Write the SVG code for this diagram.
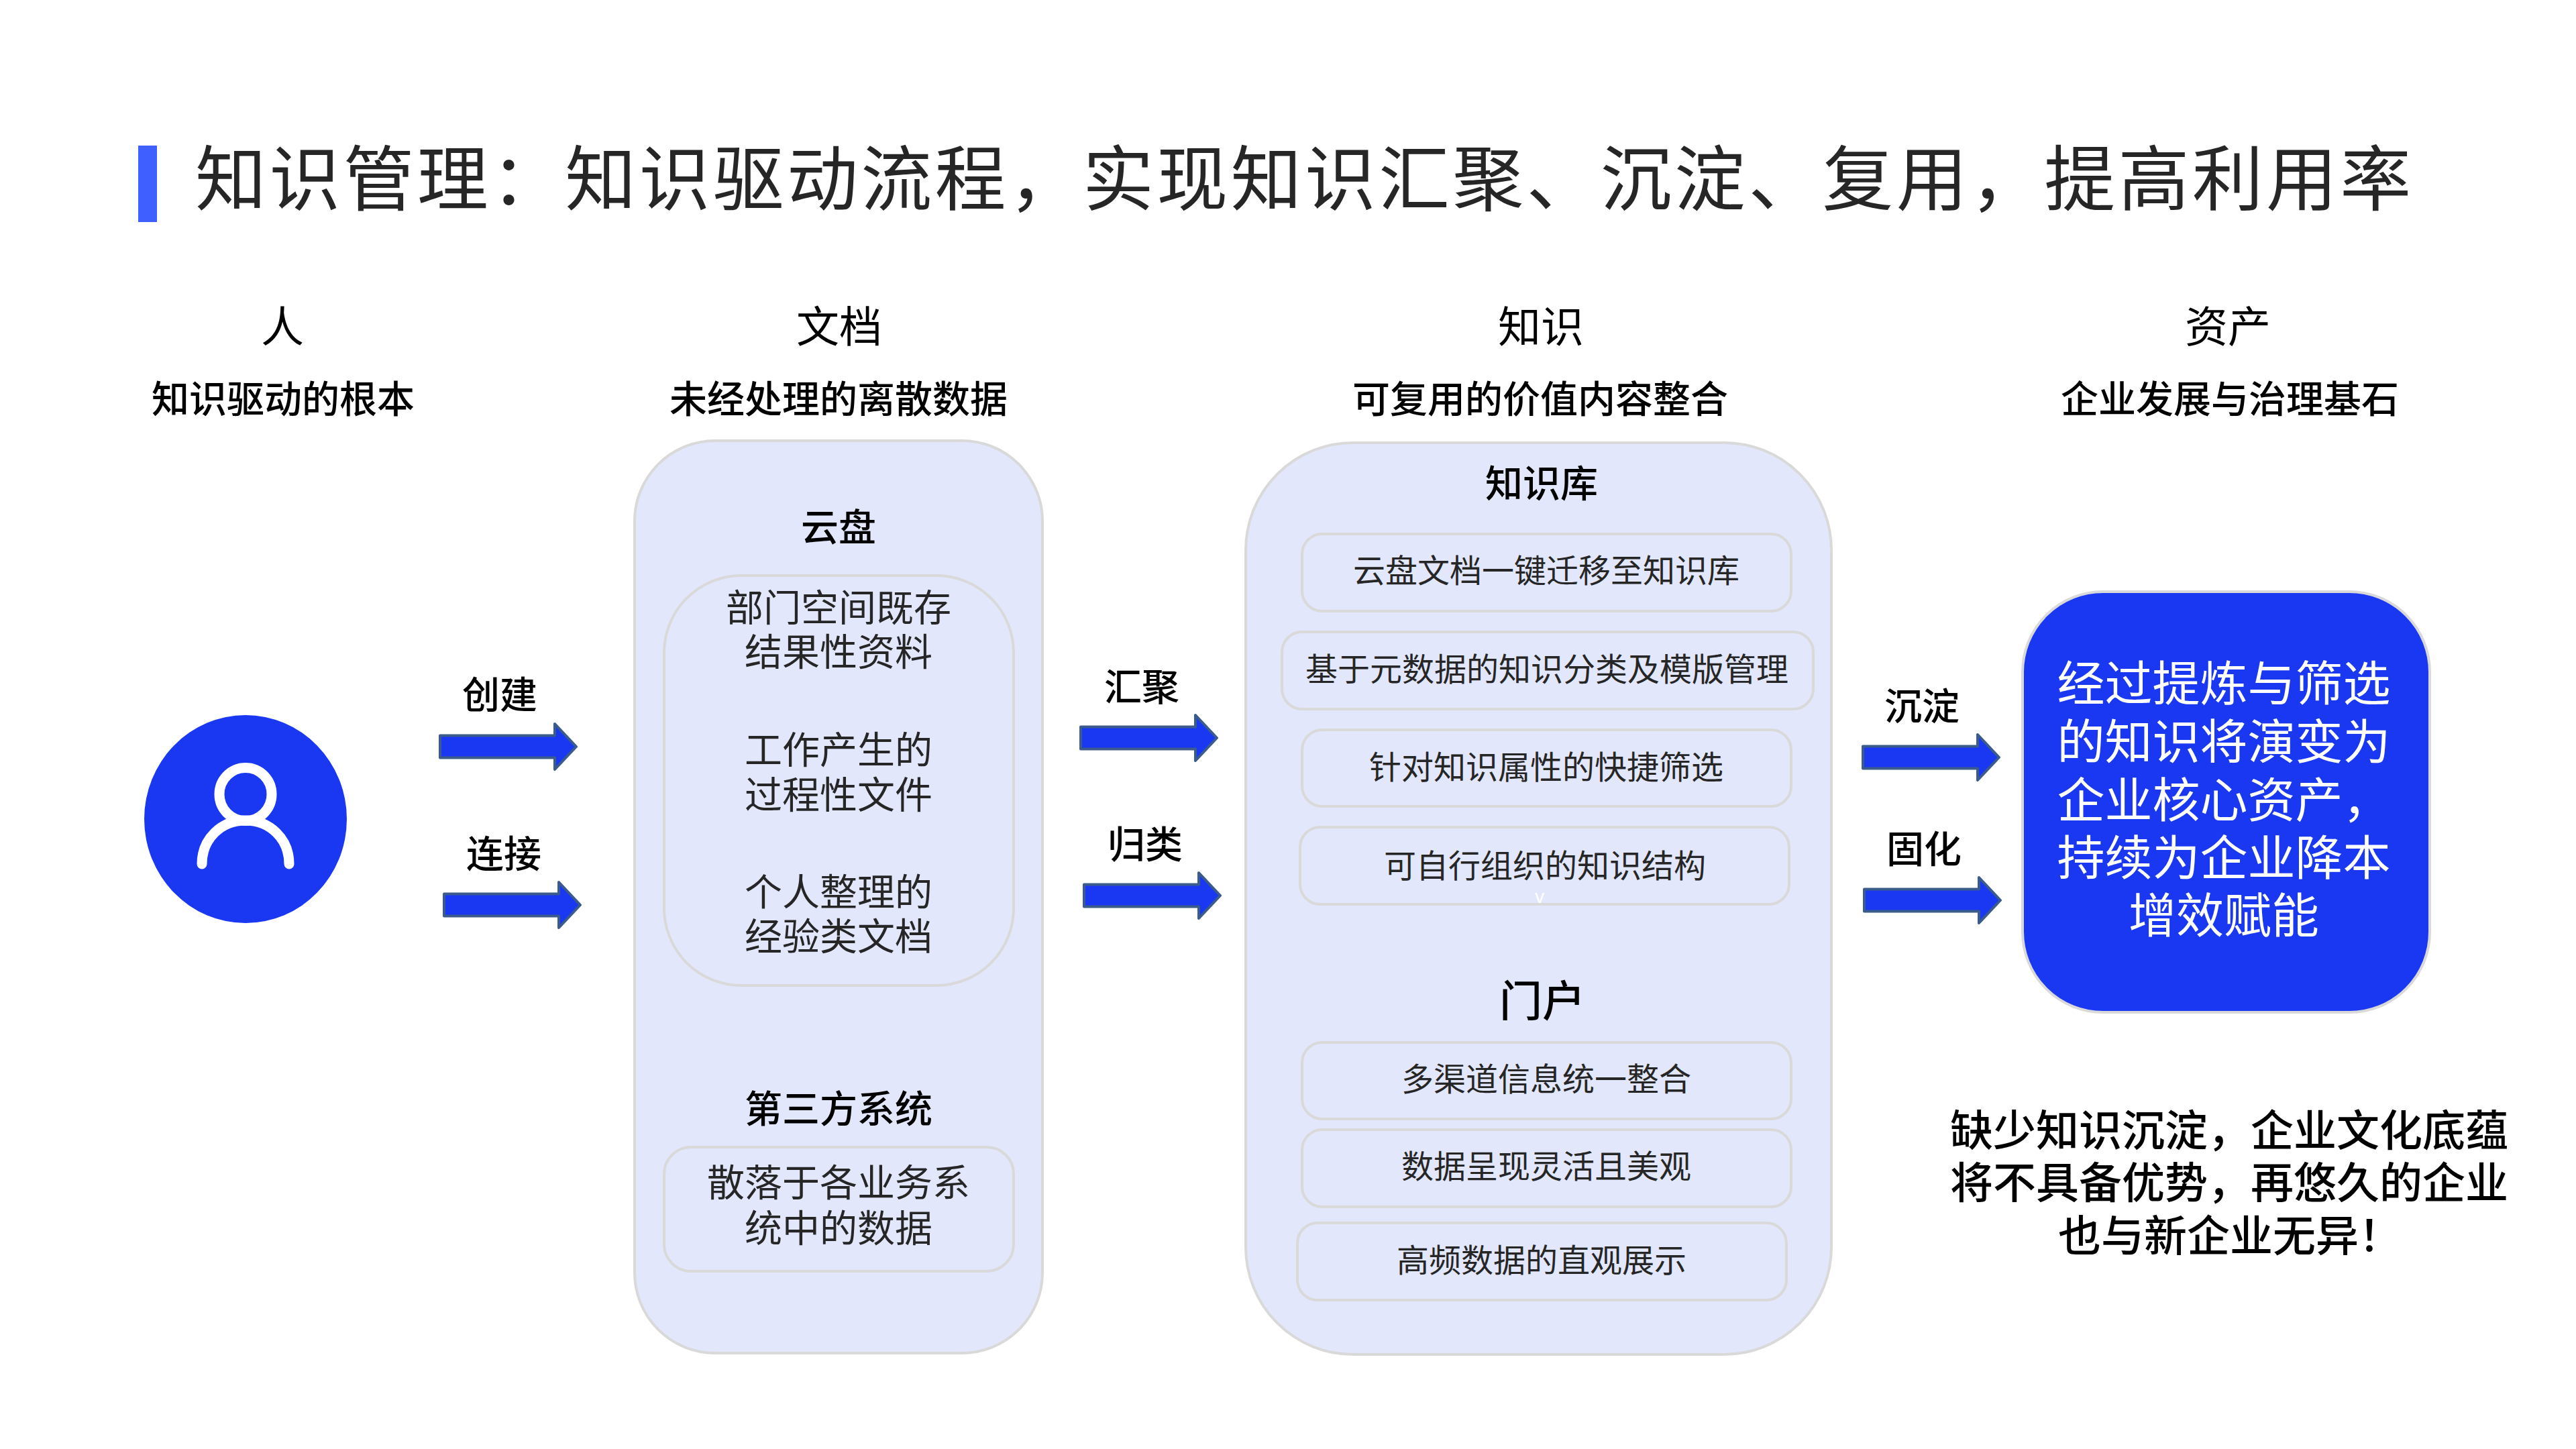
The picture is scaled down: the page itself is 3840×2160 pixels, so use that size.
<svg xmlns="http://www.w3.org/2000/svg" width="3840" height="2160" viewBox="0 0 3840 2160">
<defs>
<path id="arr" d="M0 -16.5 H171 V-34 L203 0 L171 34 V16.5 H0 Z"/>
</defs>
<style>
text{font-family:"Noto Sans CJK SC","Noto Sans",sans-serif;fill:#000;text-anchor:middle}
.title{font-size:106px;letter-spacing:4.25px;fill:#262626;text-anchor:start}
.h{font-size:64px}
.hm{font-size:64px;font-weight:500}
.s{font-size:56px;font-weight:500}
.t56{font-size:56px;fill:#262626}
.t48{font-size:48px;fill:#262626}
.w{font-size:71px;fill:#fff}
.n{font-size:64px;font-weight:500}
.v{font-size:28px;fill:#fff}
.panel{fill:#E3E7FC;stroke:#D9D9D9;stroke-width:4}
.box{fill:#E3E7FC;stroke:#D9D9D9;stroke-width:4}
.arrow{fill:#1A38F2;stroke:#3B5B8C;stroke-width:4;stroke-linejoin:round}
</style>
<rect width="3840" height="2160" fill="#fff"/>
<g id="title">
<rect x="206" y="217" width="28" height="114" fill="#3F5FFF"/>
<text class="title" x="291" y="305">知识管理：知识驱动流程，实现知识汇聚、沉淀、复用，提高利用率</text>
</g>
<g id="headers">
<text class="h" x="421" y="510">人</text>
<text class="s" x="422" y="615">知识驱动的根本</text>
<text class="h" x="1251" y="510">文档</text>
<text class="s" x="1250" y="615">未经处理的离散数据</text>
<text class="h" x="2297" y="510">知识</text>
<text class="s" x="2296" y="615">可复用的价值内容整合</text>
<text class="h" x="3321" y="510">资产</text>
<text class="s" x="3324" y="615">企业发展与治理基石</text>
</g>
<g id="person">
<ellipse cx="366" cy="1221" rx="151" ry="155" fill="#1A38F2"/>
<ellipse cx="366" cy="1184" rx="39" ry="39.5" fill="none" stroke="#fff" stroke-width="15"/>
<path d="M301 1288 C301 1250 330 1223 366 1223 S431 1250 431 1288" fill="none" stroke="#fff" stroke-width="15" stroke-linecap="round"/>
</g>
<g id="connectors">
<use class="arrow" href="#arr" x="656" y="1113"/>
<use class="arrow" href="#arr" x="662" y="1349"/>
<use class="arrow" href="#arr" x="1611" y="1100"/>
<use class="arrow" href="#arr" x="1616" y="1335"/>
<use class="arrow" href="#arr" x="2777" y="1129"/>
<use class="arrow" href="#arr" x="2779" y="1342"/>
</g>
<g id="connector-labels">
<text class="s" x="745" y="1056">创建</text>
<text class="s" x="751" y="1293">连接</text>
<text class="s" x="1702" y="1044">汇聚</text>
<text class="s" x="1707" y="1279">归类</text>
<text class="s" x="2865" y="1073">沉淀</text>
<text class="s" x="2868" y="1286">固化</text>
</g>
<g id="doc-panel">
<rect class="panel" x="946" y="657" width="608" height="1360" rx="120"/>
<text class="s" x="1250" y="806">云盘</text>
<rect class="box" x="990" y="858" width="521" height="611" rx="115"/>
<text class="t56" x="1250" y="926">部门空间既存</text>
<text class="t56" x="1250" y="992">结果性资料</text>
<text class="t56" x="1250" y="1138">工作产生的</text>
<text class="t56" x="1250" y="1205">过程性文件</text>
<text class="t56" x="1250" y="1350">个人整理的</text>
<text class="t56" x="1250" y="1416">经验类文档</text>
<text class="s" x="1250" y="1673">第三方系统</text>
<rect class="box" x="990" y="1710" width="521" height="185" rx="40"/>
<text class="t56" x="1250" y="1783">散落于各业务系</text>
<text class="t56" x="1250" y="1851">统中的数据</text>
</g>
<g id="knowledge-panel">
<rect class="panel" x="1857" y="660" width="873" height="1359" rx="160"/>
<text class="s" x="2298" y="741">知识库</text>
<rect class="box" x="1941" y="796" width="729" height="115" rx="30"/>
<text class="t48" x="2305" y="868">云盘文档一键迁移至知识库</text>
<rect class="box" x="1911" y="942" width="792" height="115" rx="30"/>
<text class="t48" x="2306" y="1015">基于元数据的知识分类及模版管理</text>
<rect class="box" x="1941" y="1088" width="729" height="114" rx="30"/>
<text class="t48" x="2305" y="1161">针对知识属性的快捷筛选</text>
<rect class="box" x="1938" y="1233" width="729" height="115" rx="30"/>
<text class="t48" x="2303" y="1308">可自行组织的知识结构</text>
<text class="v" x="2295" y="1346">v</text>
<text class="hm" x="2299" y="1515">门户</text>
<rect class="box" x="1941" y="1554" width="729" height="114" rx="30"/>
<text class="t48" x="2305" y="1626">多渠道信息统一整合</text>
<rect class="box" x="1941" y="1684" width="729" height="115" rx="30"/>
<text class="t48" x="2305" y="1756">数据呈现灵活且美观</text>
<rect class="box" x="1934" y="1823" width="729" height="115" rx="30"/>
<text class="t48" x="2298" y="1896">高频数据的直观展示</text>
</g>
<g id="asset">
<rect x="3015" y="882" width="607" height="627" rx="120" fill="#1A38F2" stroke="#D9D9D9" stroke-width="4"/>
<text class="w" x="3315" y="1044">经过提炼与筛选</text>
<text class="w" x="3315" y="1131">的知识将演变为</text>
<text class="w" x="3315" y="1218">企业核心资产，</text>
<text class="w" x="3315" y="1304">持续为企业降本</text>
<text class="w" x="3315" y="1390">增效赋能</text>
</g>
<g id="note">
<text class="n" x="3323" y="1708">缺少知识沉淀，企业文化底蕴</text>
<text class="n" x="3323" y="1786">将不具备优势，再悠久的企业</text>
<text class="n" x="3324" y="1865">也与新企业无异！</text>
</g>
</svg>
